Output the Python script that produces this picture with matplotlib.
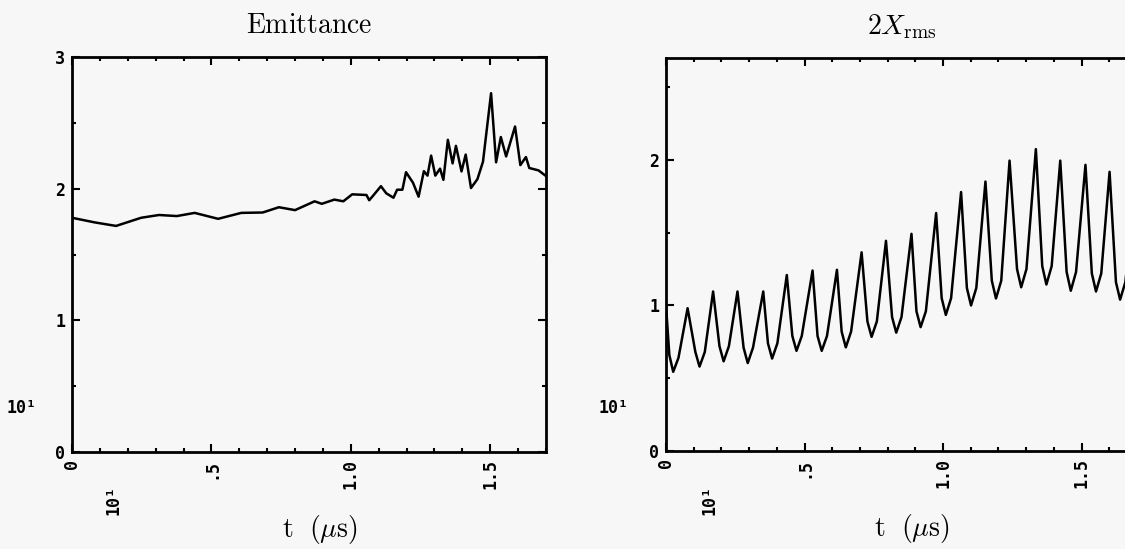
import numpy as np
import matplotlib
matplotlib.use("Agg")
import matplotlib.pyplot as plt
from matplotlib.ticker import FixedLocator, MultipleLocator

plt.rcParams['mathtext.fontset'] = 'cm'

# emittance vs time (us)
t_emit = [0.0, 0.081, 0.158, 0.248, 0.312, 0.376, 0.44, 0.524, 0.607, 0.684,
          0.742, 0.80, 0.87, 0.896, 0.941, 0.973, 1.005, 1.056, 1.066, 1.082,
          1.108, 1.127, 1.153, 1.166, 1.185, 1.198, 1.223, 1.243, 1.262, 1.275,
          1.288, 1.303, 1.32, 1.332, 1.348, 1.365, 1.377, 1.397, 1.412, 1.431,
          1.454, 1.474, 1.503, 1.521, 1.538, 1.557, 1.589, 1.608, 1.628, 1.64,
          1.673, 1.698]
emit = [1.779, 1.744, 1.717, 1.779, 1.80, 1.792, 1.816, 1.771, 1.816, 1.819,
        1.859, 1.837, 1.904, 1.885, 1.917, 1.904, 1.957, 1.952, 1.912, 1.952,
        2.019, 1.965, 1.931, 1.992, 1.992, 2.125, 2.045, 1.939, 2.133, 2.099,
        2.251, 2.099, 2.152, 2.067, 2.371, 2.192, 2.325, 2.131, 2.259, 2.005,
        2.072, 2.205, 2.725, 2.20, 2.392, 2.245, 2.472, 2.179, 2.24, 2.157,
        2.139, 2.099]

# 2 Xrms vs time (us): trough shoulder, trough, trough shoulder, peak ...
t_xrms = [0.0, 0.012, 0.026, 0.045, 0.078,
          0.106, 0.121, 0.140, 0.170, 0.193, 0.208, 0.227, 0.258,
          0.280, 0.295, 0.314, 0.351, 0.368, 0.383, 0.402, 0.436,
          0.456, 0.471, 0.490, 0.529, 0.547, 0.562, 0.581, 0.617,
          0.634, 0.649, 0.668, 0.706, 0.727, 0.742, 0.761, 0.794,
          0.816, 0.831, 0.850, 0.886, 0.904, 0.919, 0.938, 0.975,
          0.995, 1.010, 1.029, 1.065, 1.086, 1.101, 1.120, 1.153,
          1.176, 1.191, 1.210, 1.240, 1.267, 1.282, 1.301, 1.335,
          1.358, 1.373, 1.392, 1.423, 1.446, 1.461, 1.480, 1.514,
          1.537, 1.552, 1.571, 1.601, 1.624, 1.639, 1.658, 1.69]
xrms = [1.0, 0.66, 0.544, 0.64, 0.981,
        0.68, 0.580, 0.68, 1.096, 0.72, 0.616, 0.72, 1.096,
        0.71, 0.604, 0.71, 1.096, 0.74, 0.635, 0.74, 1.209,
        0.79, 0.688, 0.79, 1.240, 0.79, 0.688, 0.79, 1.245,
        0.82, 0.712, 0.82, 1.365, 0.89, 0.784, 0.89, 1.444,
        0.92, 0.813, 0.92, 1.492, 0.96, 0.851, 0.96, 1.635,
        1.05, 0.935, 1.05, 1.779, 1.12, 1.0, 1.12, 1.851,
        1.17, 1.048, 1.17, 1.995, 1.25, 1.125, 1.25, 2.074,
        1.27, 1.144, 1.27, 1.995, 1.23, 1.101, 1.23, 1.966,
        1.22, 1.096, 1.22, 1.918, 1.16, 1.040, 1.16, 1.75]

bg = '#f7f7f7'
tickfont = dict(family='DejaVu Sans Mono', weight='bold', size=12)

fig = plt.figure(figsize=(11.25, 5.49), dpi=100, facecolor=bg)
ax1 = fig.add_axes([72/1125, 97/549, 474/1125, 395/549])
ax2 = fig.add_axes([666/1125, 98/549, 471/1125, 393/549])

def style(ax, ymax, yticks):
    ax.set_facecolor(bg)
    ax.set_xlim(0, 1.7)
    ax.set_ylim(0, ymax)
    ax.xaxis.set_major_locator(FixedLocator([0, 0.5, 1.0, 1.5]))
    ax.xaxis.set_minor_locator(MultipleLocator(0.1))
    ax.yaxis.set_major_locator(FixedLocator(yticks))
    ax.yaxis.set_minor_locator(MultipleLocator(0.5))
    ax.set_xticklabels(['0', '.5', '1.0', '1.5'], rotation=90, va='top', **tickfont)
    ax.set_yticklabels([str(v) for v in yticks], **tickfont)
    ax.tick_params(which='both', direction='in', top=True, right=True, width=1.5)
    ax.tick_params(which='major', length=6, pad=5)
    ax.tick_params(which='minor', length=3)
    for s in ax.spines.values():
        s.set_linewidth(2)
    ax.set_xlabel(r'$\mathrm{t}\ \ (\mu\mathrm{s})$', fontsize=20, x=0.522, labelpad=17)

ax1.plot(t_emit, emit, color='black', lw=1.8)
style(ax1, 3, [0, 1, 2, 3])
ax1.set_title(r'$\mathrm{Emittance}$', fontsize=20, pad=17)

ax2.plot(t_xrms, xrms, color='black', lw=1.8)
style(ax2, 2.7, [0, 1, 2])
ax2.set_title(r'$2X_{\mathrm{rms}}$', fontsize=20, pad=17)

# scale factor labels
for xl, xr in [(21, 114), (613, 710)]:
    fig.text(xl/1125, 1 - 408/549, '10¹', ha='center', va='center', **tickfont)
    fig.text(xr/1125, 1 - 500/549, '10¹', ha='center', va='center', rotation=90, **tickfont)

fig.savefig('out.png', dpi=100, facecolor=bg)
